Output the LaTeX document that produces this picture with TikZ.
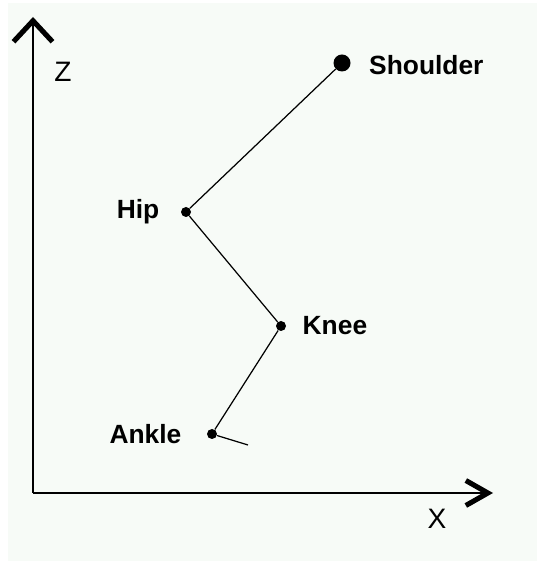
\documentclass[tikz,border=0pt]{standalone}
\usepackage{fontspec}
\setmainfont{Liberation Sans}
\usetikzlibrary{arrows.meta,positioning}
\definecolor{paper}{RGB}{247,251,247}

\begin{document}
\begin{tikzpicture}[
    axisline/.style={
        line width=1.7pt,
        draw=black
    },
    limbline/.style={
        line width=0.7pt,
        draw=black
    },
    jointdot/.style={
        circle,
        fill=black,
        inner sep=0pt,
        minimum size=0.2cm
    },
    jointlabel/.style={
        font=\fontsize{15}{18}\selectfont\bfseries,
        inner sep=0pt
    },
    axislabel/.style={
        font=\fontsize{16}{19}\selectfont
    }
]
    % --- PAPER ---
    \fill[white] (0, 0) rectangle (10.74, 11.24);
    \fill[paper] (0.16, 0.02) rectangle (10.74, 11.18);
    \useasboundingbox (0, 0) rectangle (10.74, 11.24);

    % --- AXES ---
    \coordinate (origin) at (0.66, 1.38);
    \coordinate (ztip) at (0.66, 10.9);
    \coordinate (xtip) at (9.86, 1.38);

    \draw[axisline, -{Straight Barb[length=0.42cm, width=0.78cm, line width=2.9pt]}] (origin) -- (ztip);
    \draw[axisline, -{Straight Barb[length=0.44cm, width=0.5cm, line width=2.9pt]}] (origin) -- (xtip);

    \node[axislabel] (zlabel) at (1.26, 9.80) {Z};
    \node[axislabel] (xlabel) at (8.74, 0.86) {X};

    % --- JOINTS ---
    \node[jointdot, minimum size=0.34cm] (shoulder) at (6.84, 9.98) {};
    \node[jointdot] (hip) at (3.72, 7.00) {};
    \node[jointdot] (knee) at (5.62, 4.72) {};
    \node[jointdot] (ankle) at (4.24, 2.56) {};
    \coordinate (toe) at (4.96, 2.34);

    \node[jointlabel, right=0.36cm of shoulder, yshift=-0.04cm] (shoulderlabel) {Shoulder};
    \node[jointlabel, left=0.42cm of hip] (hiplabel) {Hip};
    \node[jointlabel, right=0.32cm of knee] (kneelabel) {Knee};
    \node[jointlabel, left=0.5cm of ankle] (anklelabel) {Ankle};

    % --- LIMBS ---
    \draw[limbline] (shoulder) -- (hip);
    \draw[limbline] (hip) -- (knee);
    \draw[limbline] (knee) -- (ankle);
    \draw[limbline] (ankle) -- (toe);
\end{tikzpicture}
\end{document}
